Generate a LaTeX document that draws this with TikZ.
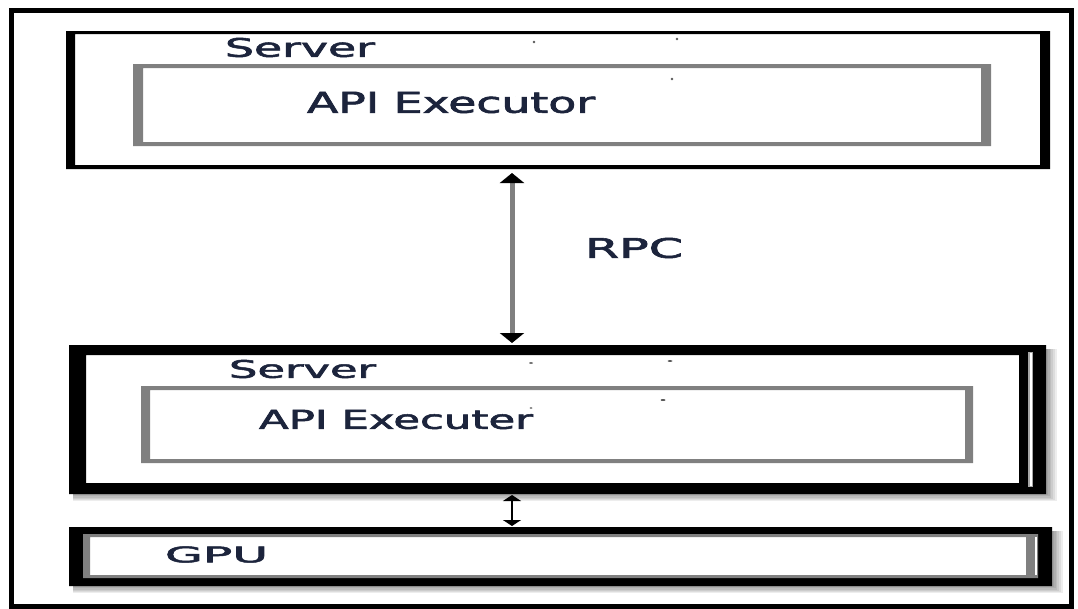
\documentclass[tikz,border=0pt]{standalone}
\usepackage{fontspec}
\setmainfont{DejaVu Sans}
\newfontfamily\labelfont{DejaVu Sans}[FakeBold=2]
\usetikzlibrary{arrows.meta}

\definecolor{ink}{RGB}{28,36,60}
\definecolor{rimgray}{RGB}{128,128,128}

% stretch a label to a given width and height (pt)
\newcommand{\fitlabel}[3]{\resizebox{#1pt}{#2pt}{\labelfont #3}}
% frame of a node with individual side thicknesses: node, colour, left, top, right, bottom
\newcommand{\rimframe}[6]{%
  \fill[#2, even odd rule] (#1.north west) rectangle (#1.south east)
    ([xshift=#3pt, yshift=-#4pt]#1.north west) rectangle ([xshift=-#5pt, yshift=#6pt]#1.south east);}
% soft shadow to the lower right of a node
\newcommand{\softshadow}[1]{%
  \foreach \s in {1,...,6}{
    \fill[black, opacity=0.07] ([xshift=4pt, yshift=-4pt]#1.north west)
      rectangle ([xshift=\s*1.8pt, yshift=-\s*1.2pt]#1.south east);}}

\begin{document}
\begin{tikzpicture}[x=1pt, y=-1pt,
  region/.style={inner sep=0pt, outer sep=0pt, draw=none},
  caption/.style={inner sep=0pt, outer sep=0pt, text=ink},
  speck/.style={fill=black!65},
]
\useasboundingbox (0,0) rectangle (1078,608);
\fill[white] (0,0) rectangle (1078,608);

% layout regions
\node[region, minimum width=1060pt, minimum height=596pt] (page) at (541,308) {};
\node[region, minimum width=984pt, minimum height=138pt] (srv1) at (558,100) {};
\node[region, minimum width=858pt, minimum height=82pt]  (api1) at (562,105) {};
\node[region, minimum width=977pt, minimum height=149pt] (srv2) at (557.5,419.5) {};
\node[region, minimum width=832pt, minimum height=77pt]  (api2) at (557,424.5) {};
\node[region, minimum width=983pt, minimum height=59pt]  (gpu)  at (560.5,556.5) {};
\node[region, minimum width=955pt, minimum height=44pt]  (gpuin) at (560.5,556) {};
\coordinate (link) at (512,0);

% outer frame
\draw[line width=5pt] (page.north west) rectangle (page.south east);

% shadows and backgrounds of the lower boxes
\softshadow{srv2}
\softshadow{gpu}
\fill[white] (srv2.north west) rectangle (srv2.south east);
\fill[white] (gpu.north west) rectangle (gpu.south east);

% upper server
\rimframe{srv1}{black}{9}{3}{10}{4}
\rimframe{api1}{rimgray}{10}{4}{10}{4}

% lower server
\rimframe{srv2}{black}{17}{10}{27}{11}
\fill[rimgray!70] ([xshift=-18pt, yshift=-7pt]srv2.north east) rectangle ([xshift=-13pt, yshift=7pt]srv2.south east);
\fill[white] ([xshift=-16.5pt, yshift=-8pt]srv2.north east) rectangle ([xshift=-14.5pt, yshift=8pt]srv2.south east);
\rimframe{api2}{rimgray}{9}{4}{8}{4}

% GPU
\rimframe{gpu}{black}{14}{7}{14}{8}
\rimframe{gpuin}{rimgray}{7}{3}{12}{3}
\fill[white] ([xshift=-3pt, yshift=-3pt]gpuin.north east) rectangle ([xshift=-1pt, yshift=3pt]gpuin.south east);

% connectors
\draw[rimgray, line width=5pt,
      {Triangle[width=24pt, length=10pt, black]}-{Triangle[width=24pt, length=10pt, black]},
      shorten <=4pt, shorten >=2pt]
  (link |- srv1.south) -- (link |- srv2.north);
\draw[black, line width=2pt,
      {Triangle[width=18pt, length=6pt]}-{Triangle[width=18pt, length=6pt]},
      shorten <=1pt, shorten >=1pt]
  (link |- srv2.south) -- (link |- gpu.north);

% labels
\node[caption] (t-srv1) at (300,47.5)   {\fitlabel{150}{19}{Server}};
\node[caption] (t-api1) at (451,102.5)  {\fitlabel{288}{21}{API Executor}};
\node[caption] (t-rpc)  at (634,248)    {\fitlabel{98}{20}{RPC}};
\node[caption] (t-srv2) at (302.5,369)  {\fitlabel{147}{18}{Server}};
\node[caption] (t-api2) at (396,419.5)  {\fitlabel{274}{19}{API Executer}};
\node[caption] (t-gpu)  at (216.5,554.5){\fitlabel{103}{16}{GPU}};

% stray specks
\fill[speck] (534,42) circle (1.3pt);
\fill[speck] (677,39) circle (1.3pt);
\fill[speck] (672,79) circle (1.3pt);
\fill[speck] (531,363) ellipse (2pt and 0.8pt);
\fill[speck] (670,361) ellipse (2.5pt and 0.9pt);
\fill[speck] (663,400) ellipse (2.5pt and 1pt);
\fill[speck] (531,408) ellipse (1.5pt and 0.8pt);
\end{tikzpicture}
\end{document}
